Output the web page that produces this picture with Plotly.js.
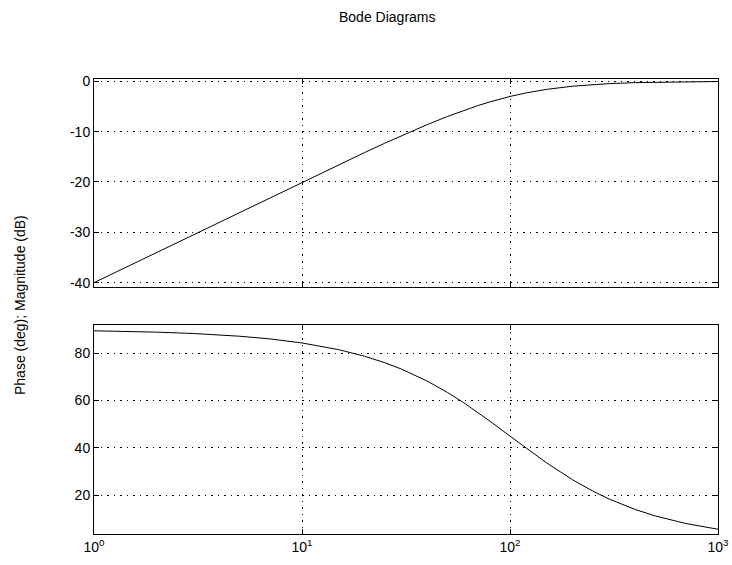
<!DOCTYPE html>
<html>
<head>
<meta charset="utf-8">
<script src="https://cdn.plot.ly/plotly-3.0.1.min.js"></script>
<style>html,body{margin:0;padding:0;background:#fff;}#chart{width:732px;height:565px;}</style>
</head>
<body>
<div id="chart"></div>
<script>
var freq = [1, 1.5, 2, 3, 4, 5, 7, 10, 15, 20, 25, 30, 40, 50, 60, 70, 80, 100, 120, 150, 200, 250, 300, 400, 500, 700, 1000];
var magnitudeDb = [-40.00, -36.48, -33.98, -30.46, -27.97, -26.03, -23.12, -20.04, -16.58, -14.15, -12.30, -10.83, -8.60, -6.99, -5.77, -4.83, -4.09, -3.01, -2.29, -1.60, -0.97, -0.64, -0.46, -0.26, -0.17, -0.09, -0.04];
var phaseDeg = [89.43, 89.14, 88.85, 88.28, 87.71, 87.14, 86.00, 84.29, 81.47, 78.69, 75.96, 73.30, 68.20, 63.43, 59.04, 55.01, 51.34, 45.00, 39.81, 33.69, 26.57, 21.80, 18.43, 14.04, 11.31, 8.13, 5.71];
var xTickVals = [1, 10, 100, 1000];
var xTickText = ['10<sup>0</sup>', '10<sup>1</sup>', '10<sup>2</sup>', '10<sup>3</sup>'];
var magTicks = [-40, -30, -20, -10, 0];
var magTickText = ['-40', '-30', '-20', '-10', '0'];
var phaseTicks = [20, 40, 60, 80];
var phaseTickText = ['20', '40', '60', '80'];

var font = {family: 'Liberation Sans, Arial, sans-serif', size: 14, color: '#000'};
var axisCommon = {
  showline: true, linecolor: '#000', linewidth: 1, mirror: 'ticks',
  ticks: 'inside', ticklen: 5, tickcolor: '#000', tickwidth: 1,
  showgrid: true, gridcolor: '#000', gridwidth: 1, griddash: '1.5px,5px',
  zeroline: false, tickfont: font
};
function ax(extra) { return Object.assign({}, axisCommon, extra); }

var data = [
  {x: freq, y: magnitudeDb, xaxis: 'x', yaxis: 'y', mode: 'lines', line: {color: '#000', width: 1}, hoverinfo: 'skip'},
  {x: freq, y: phaseDeg, xaxis: 'x2', yaxis: 'y2', mode: 'lines', line: {color: '#000', width: 1}, hoverinfo: 'skip'}
];

var layout = {
  width: 732, height: 565,
  margin: {l: 94, r: 14, t: 79, b: 31},
  paper_bgcolor: '#fff', plot_bgcolor: '#fff',
  showlegend: false,
  font: font,
  xaxis: ax({type: 'log', range: [0, 3], tickvals: xTickVals, ticktext: ['', '', '', ''], anchor: 'y'}),
  yaxis: ax({domain: [0.543, 1], range: [-40.85, 0.46], tickvals: magTicks, ticktext: magTickText, anchor: 'x'}),
  xaxis2: ax({type: 'log', range: [0, 3], tickvals: xTickVals, ticktext: xTickText, anchor: 'y2'}),
  yaxis2: ax({domain: [0, 0.459], range: [3.7, 91.8], tickvals: phaseTicks, ticktext: phaseTickText, anchor: 'x2'}),
  annotations: [
    {text: 'Bode Diagrams', xref: 'paper', yref: 'paper', x: (387 - 94) / 624, y: 1, yshift: 62, xanchor: 'center', yanchor: 'middle', showarrow: false, font: {family: font.family, size: 14, color: '#000'}},
    {text: 'Phase (deg); Magnitude (dB)', xref: 'paper', yref: 'paper', x: 0, xshift: -74, y: (534 - 305) / 455, textangle: -90, xanchor: 'center', yanchor: 'middle', showarrow: false, font: {family: font.family, size: 14, color: '#000'}}
  ]
};

Plotly.newPlot('chart', data, layout, {displayModeBar: false, staticPlot: true});
</script>
</body>
</html>
